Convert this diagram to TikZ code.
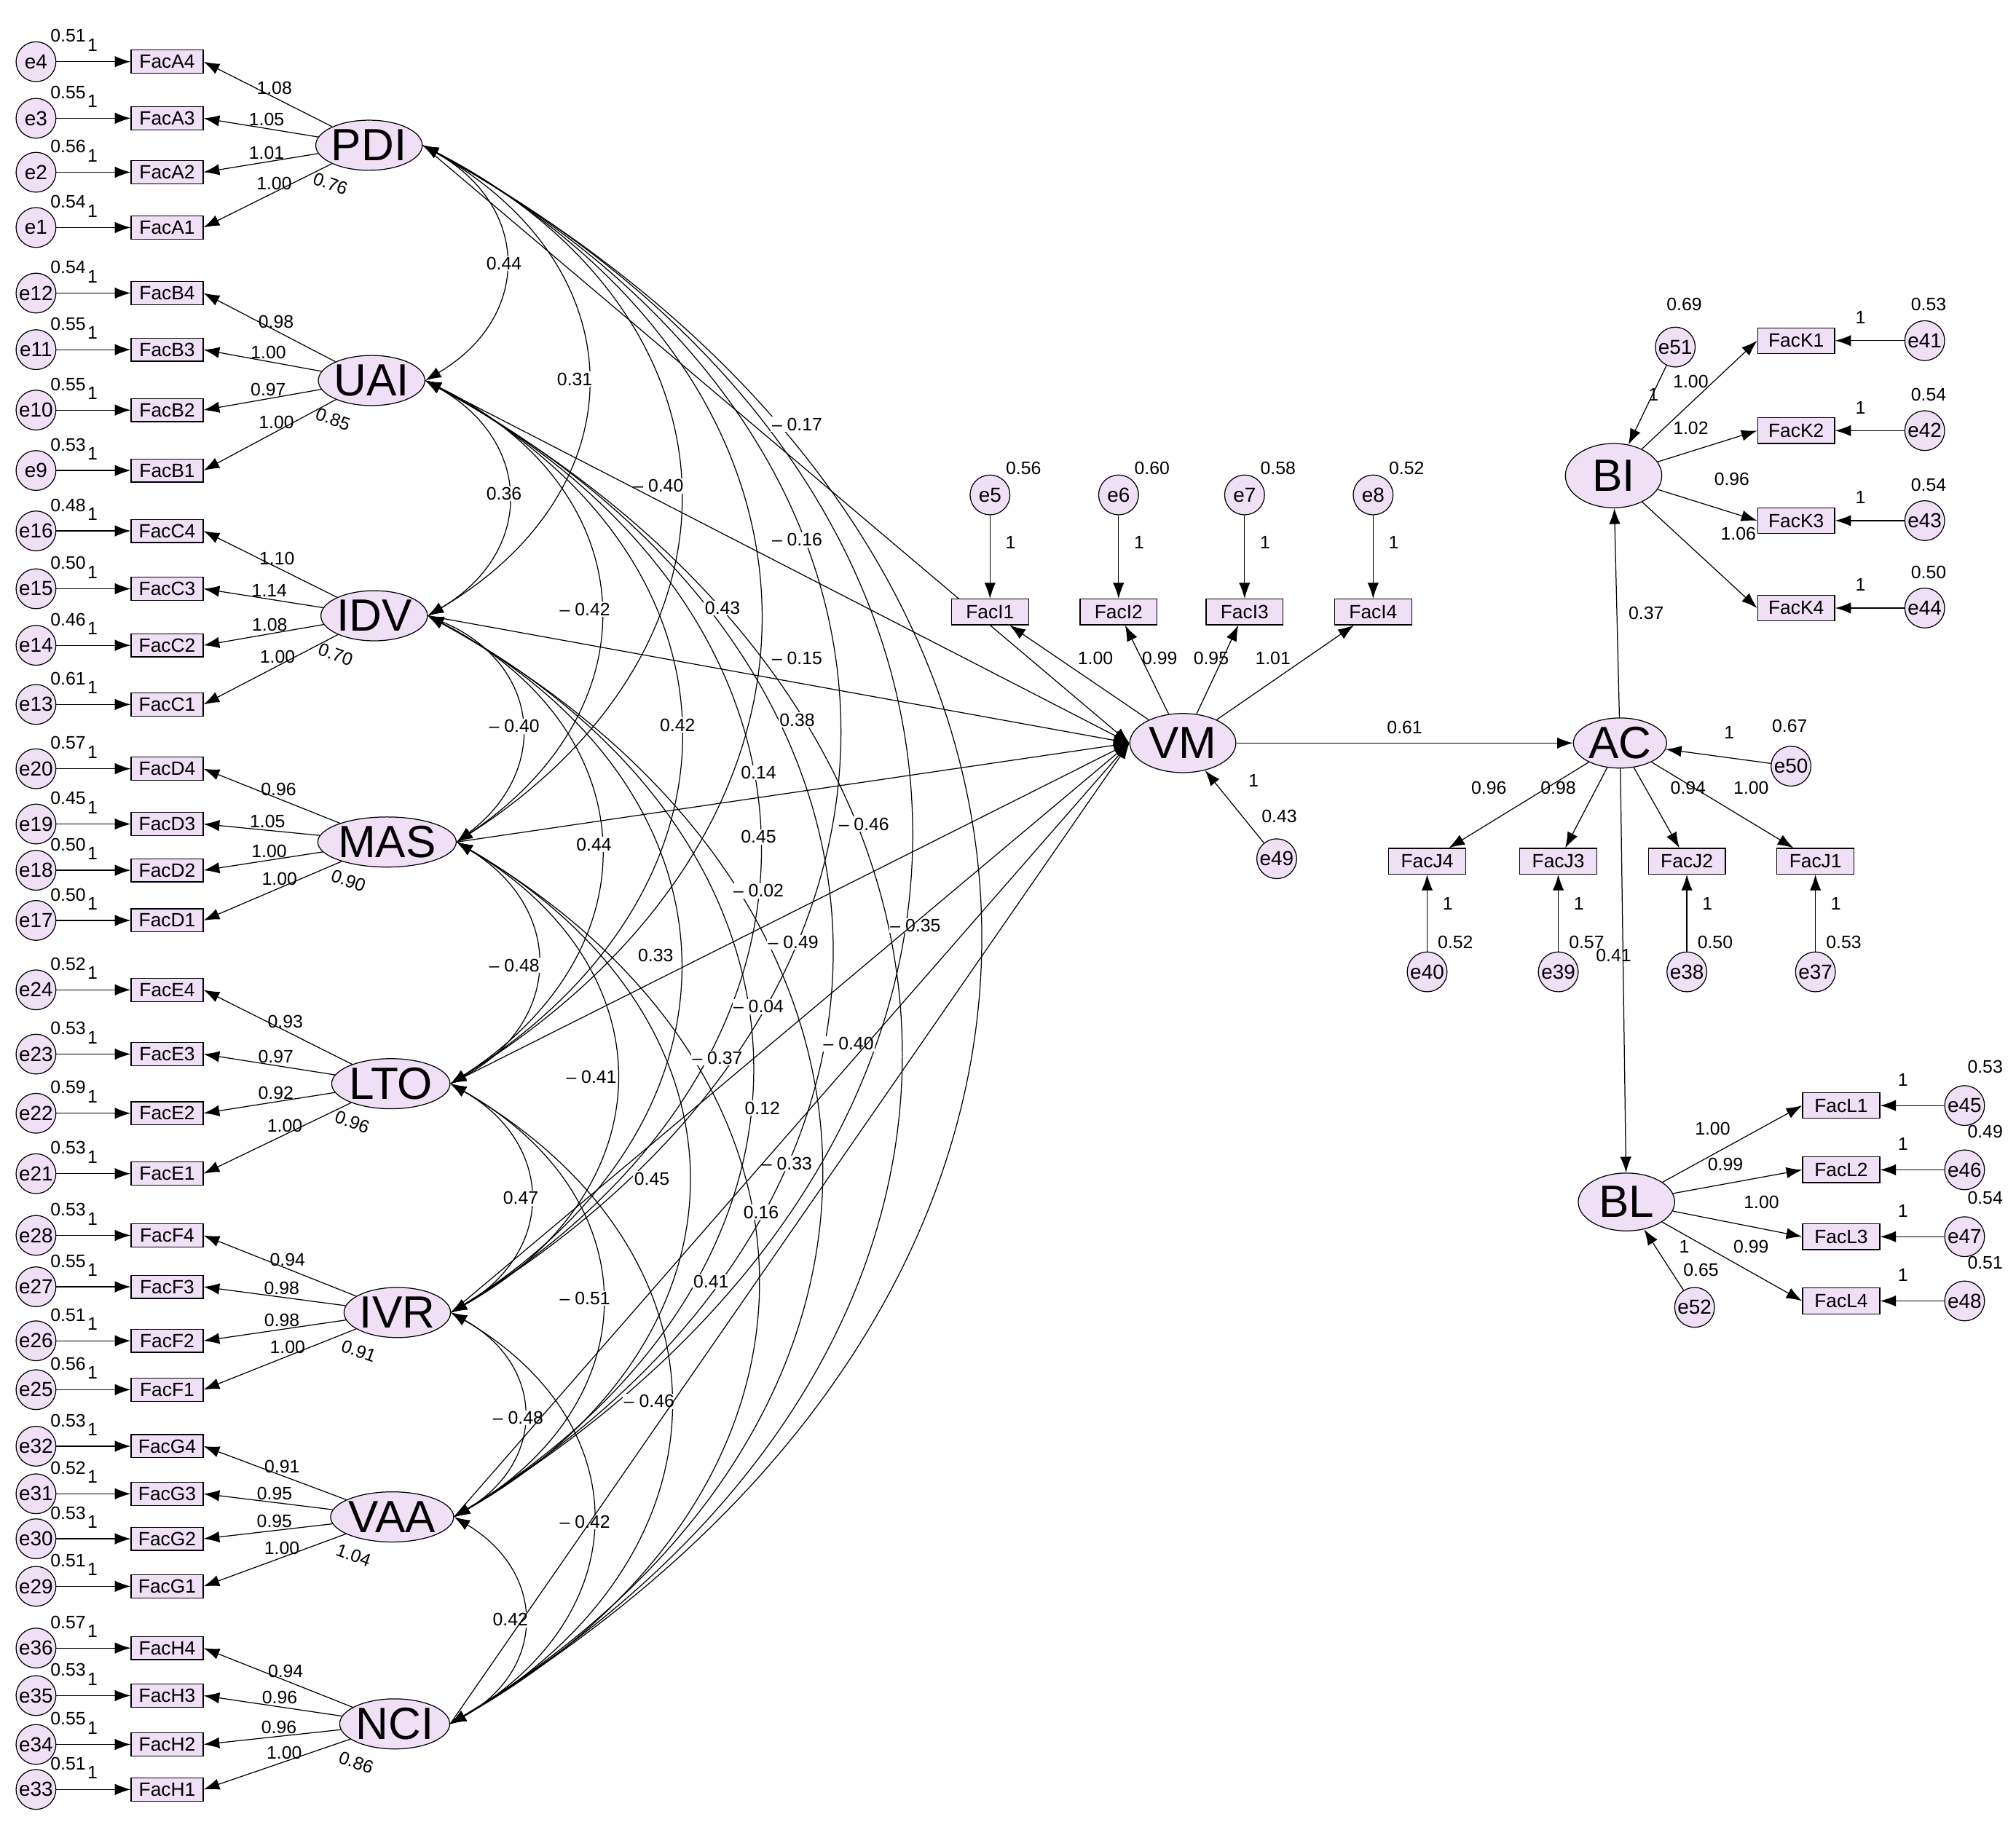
\documentclass[tikz,border=0pt]{standalone}
\usepackage{fontspec}
\setmainfont{Liberation Sans}
\usetikzlibrary{arrows.meta,shapes.geometric}
\definecolor{fl}{RGB}{240,224,246}
\begin{document}
\begin{tikzpicture}[x=0.02cm,y=-0.02cm,
  every node/.style={font=\fontsize{8}{9}\selectfont, inner sep=1pt},
  circ/.style={circle,draw,fill=fl,minimum size=0.62cm,inner sep=0pt,font=\fontsize{9}{10}\selectfont},
  rect/.style={rectangle,draw,fill=fl,minimum width=1.12cm,minimum height=0.36cm,inner sep=0pt,font=\fontsize{8.5}{9}\selectfont},
  lat/.style={ellipse,draw,fill=fl,minimum width=1.45cm,minimum height=0.78cm,inner sep=0pt,font=\fontsize{20}{22}\selectfont},
  arr/.style={-{Latex[length=7pt,width=5pt]}},
  dar/.style={{Latex[length=7pt,width=5pt]}-{Latex[length=7pt,width=5pt]}},
  lbl/.style={font=\fontsize{8}{9}\selectfont}]
\useasboundingbox (0,0) rectangle (1568,1423.5);
\fill[white] (0,0) rectangle (1568,1423.5);
% left indicators
\foreach \f/\e/\y/\v in {A4/4/48/0.51,A3/3/92/0.55,A2/2/134/0.56,A1/1/177/0.54,
 B4/12/228/0.54,B3/11/272/0.55,B2/10/319/0.55,B1/9/366/0.53,
 C4/16/413/0.48,C3/15/458/0.50,C2/14/502/0.46,C1/13/548/0.61,
 D4/20/598/0.57,D3/19/641/0.45,D2/18/677/0.50,D1/17/716/0.50,
 E4/24/770/0.52,E3/23/820/0.53,E2/22/866/0.59,E1/21/913/0.53,
 F4/28/961/0.53,F3/27/1001/0.55,F2/26/1043/0.51,F1/25/1081/0.56,
 G4/32/1125/0.53,G3/31/1162/0.52,G2/30/1197/0.53,G1/29/1234/0.51,
 H4/36/1282/0.57,H3/35/1319/0.53,H2/34/1357/0.55,H1/33/1392/0.51}{
 \node[circ] (e\e) at (28,\y) {e\e};
 \node[rect] (Fac\f) at (130,\y) {Fac\f};
 \draw[arr] (e\e) -- (Fac\f);
 \node[lbl] at (53,\y-20) {\v};
 \node[lbl] at (72,\y-13) {1};
}
% latents
\foreach \L/\x/\y/\v in {PDI/287/113/0.76,UAI/289/296/0.85,IDV/291/479/0.70,MAS/301/655/0.90,LTO/304/843/0.96,IVR/309/1021/0.91,VAA/305/1180/1.04,NCI/307/1341/0.86}{
 \node[lat] (\L) at (\x,\y) {\L};
 \node[lbl,rotate=-20] at (\x-30,\y+30) {\v};
}
\foreach \L/\f/\l in {PDI/A4/1.08,PDI/A3/1.05,PDI/A2/1.01,PDI/A1/1.00,
 UAI/B4/0.98,UAI/B3/1.00,UAI/B2/0.97,UAI/B1/1.00,
 IDV/C4/1.10,IDV/C3/1.14,IDV/C2/1.08,IDV/C1/1.00,
 MAS/D4/0.96,MAS/D3/1.05,MAS/D2/1.00,MAS/D1/1.00,
 LTO/E4/0.93,LTO/E3/0.97,LTO/E2/0.92,LTO/E1/1.00,
 IVR/F4/0.94,IVR/F3/0.98,IVR/F2/0.98,IVR/F1/1.00,
 VAA/G4/0.91,VAA/G3/0.95,VAA/G2/0.95,VAA/G1/1.00,
 NCI/H4/0.94,NCI/H3/0.96,NCI/H2/0.96,NCI/H1/1.00}{
 \draw[arr] (\L) -- node[lbl,pos=0.45,above]{\l} (Fac\f.east);
}
% correlations
\foreach \a/\b in {PDI/UAI,PDI/IDV,PDI/MAS,PDI/LTO,PDI/IVR,PDI/VAA,PDI/NCI,
 UAI/IDV,UAI/MAS,UAI/LTO,UAI/IVR,UAI/VAA,UAI/NCI,
 IDV/MAS,IDV/LTO,IDV/IVR,IDV/VAA,IDV/NCI,
 MAS/LTO,MAS/IVR,MAS/VAA,MAS/NCI,
 LTO/IVR,LTO/VAA,LTO/NCI,IVR/VAA,IVR/NCI,VAA/NCI}{
 \draw[dar] (\a.east) to[bend left=60,looseness=1.35] (\b.east);
}
\foreach \x/\y/\t in {392/205/0.44,447/295/0.31,512/378/– 0.40,392/384/0.36,455/474/– 0.42,562/473/0.43,527/564/0.42,400/565/– 0.40,620/560/0.38,590/601/0.14,590/651/0.45,672/641/– 0.46,462/657/0.44,590/693/– 0.02,617/733/– 0.49,712/720/– 0.35,510/743/0.33,400/751/– 0.48,590/783/– 0.04,660/812/– 0.40,460/838/– 0.41,558/823/– 0.37,593/862/0.12,612/905/– 0.33,405/932/0.47,507/917/0.45,592/943/0.16,553/997/0.41,455/1010/– 0.51,505/1090/– 0.46,403/1103/– 0.48,455/1184/– 0.42,397/1260/0.42,620/330/– 0.17,620/420/– 0.16,620/512/– 0.15}{
 \node[lbl,fill=white,inner sep=0.5pt] at (\x,\y) {\t};
}
% VM
\node[lat,minimum width=1.65cm,minimum height=0.92cm] (VM) at (920,578) {VM};
\foreach \L in {PDI,UAI,IDV,MAS,LTO,IVR,VAA,NCI}{\draw[arr] (\L.east) -- (VM.west);}
\foreach \i/\e/\x/\v/\l in {1/5/770/0.56/1.00,2/6/870/0.60/0.99,3/7/968/0.58/0.95,4/8/1068/0.52/1.01}{
 \node[rect,minimum width=1.2cm,minimum height=0.4cm] (FacI\i) at (\x,476) {FacI\i};
 \node[circ] (e\e) at (\x,385) {e\e};
 \draw[arr] (e\e) -- (FacI\i);
 \node[lbl] at (\x+26,364) {\v};
 \node[lbl] at (\x+16,422) {1};
 \draw[arr] (VM) -- (FacI\i);
}
\node[lbl] at (852,512) {1.00};\node[lbl] at (902,512) {0.99};\node[lbl] at (942,512) {0.95};\node[lbl] at (990,512) {1.01};
\node[circ] (e49) at (993,668) {e49};
\draw[arr] (e49) -- (VM);
\node[lbl] at (995,635) {0.43};\node[lbl] at (975,607) {1};
% AC
\node[lat] (AC) at (1260,578) {AC};
\draw[arr] (VM) -- node[lbl,above=3pt]{0.61} (AC);
\node[circ] (e50) at (1393,596) {e50};
\draw[arr] (e50) -- (AC);
\node[lbl] at (1392,565) {0.67};\node[lbl] at (1345,570) {1};
\foreach \i/\e/\x/\v in {4/40/1110/0.52,3/39/1212/0.57,2/38/1312/0.50,1/37/1412/0.53}{
 \node[rect,minimum width=1.2cm,minimum height=0.4cm] (FacJ\i) at (\x,670) {FacJ\i};
 \node[circ] (e\e) at (\x,756) {e\e};
 \draw[arr] (e\e) -- (FacJ\i);
 \draw[arr] (AC) -- (FacJ\i);
 \node[lbl] at (\x+22,733) {\v};
 \node[lbl] at (\x+16,703) {1};
}
\node[lbl] at (1158,613) {0.96};\node[lbl] at (1212,613) {0.98};\node[lbl] at (1313,613) {0.94};\node[lbl] at (1362,613) {1.00};
% BI
\node[lat,minimum width=1.5cm,minimum height=1.0cm] (BI) at (1255,370) {BI};
\draw[arr] (AC) -- node[lbl,right=4pt]{0.37} (BI);
\node[circ] (e51) at (1303,270) {e51};
\draw[arr] (e51) -- (BI);
\node[lbl] at (1310,237) {0.69};\node[lbl] at (1286,307) {1};
\foreach \i/\e/\y/\v in {1/41/265/0.53,2/42/335/0.54,3/43/405/0.54,4/44/473/0.50}{
 \node[rect,minimum width=1.2cm,minimum height=0.4cm] (FacK\i) at (1397,\y) {FacK\i};
 \node[circ] (e\e) at (1497,\y) {e\e};
 \draw[arr] (e\e) -- (FacK\i);
 \draw[arr] (BI) -- (FacK\i.west);
 \node[lbl] at (1500,\y-28) {\v};
 \node[lbl] at (1447,\y-18) {1};
}
\node[lbl] at (1315,297) {1.00};\node[lbl] at (1315,333) {1.02};\node[lbl] at (1347,373) {0.96};\node[lbl] at (1352,415) {1.06};
% BL
\node[lat,minimum width=1.5cm,minimum height=0.9cm] (BL) at (1265,935) {BL};
\draw[arr] (AC) -- (BL);
\node[lbl] at (1255,743) {0.41};
\node[circ] (e52) at (1318,1017) {e52};
\draw[arr] (e52) -- (BL);
\node[lbl] at (1310,970) {1};\node[lbl] at (1323,988) {0.65};
\foreach \i/\e/\y/\v in {1/45/860/0.53,2/46/910/0.49,3/47/962/0.54,4/48/1012/0.51}{
 \node[rect,minimum width=1.2cm,minimum height=0.4cm] (FacL\i) at (1432,\y) {FacL\i};
 \node[circ] (e\e) at (1528,\y) {e\e};
 \draw[arr] (e\e) -- (FacL\i);
 \draw[arr] (BL) -- (FacL\i.west);
 \node[lbl] at (1544,\y-30) {\v};
 \node[lbl] at (1480,\y-20) {1};
}
\node[lbl] at (1332,878) {1.00};\node[lbl] at (1342,906) {0.99};\node[lbl] at (1370,935) {1.00};\node[lbl] at (1362,970) {0.99};
\end{tikzpicture}
\end{document}
